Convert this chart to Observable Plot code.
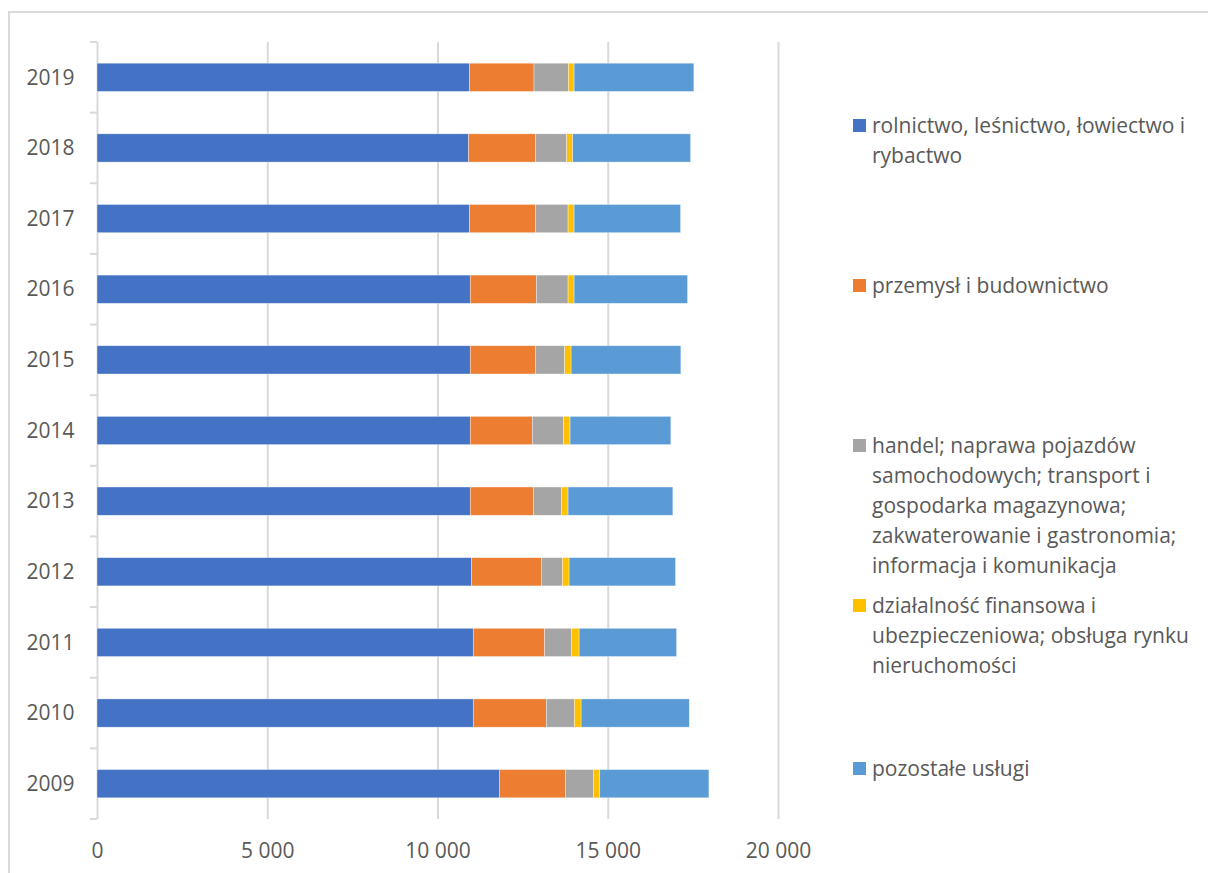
<!DOCTYPE html>
<html><head><meta charset="utf-8">
<script src="https://cdn.jsdelivr.net/npm/d3@7"></script>
<script src="https://cdn.jsdelivr.net/npm/@observablehq/plot@0.6"></script>
<style>
body{margin:0;background:#fff;font-family:"Open Sans",sans-serif;}
#wrap{position:relative;width:1208px;height:873px;overflow:hidden;background:#fff;}
#chart{position:absolute;left:0;top:0;}
#frame{position:absolute;left:8px;top:11px;width:1300px;height:1000px;border:2px solid #d9d9d9;box-sizing:border-box;pointer-events:none;}
#legend{position:absolute;left:853px;top:0;width:355px;height:873px;}
.item{position:absolute;left:0;display:flex;align-items:flex-start;}
.sw{width:13px;height:13px;margin-top:9px;margin-right:6px;flex:none;}
.lab{font-size:21px;line-height:30px;color:#595959;width:335px;}
</style>
</head><body>
<div id="wrap"><div id="chart"></div><div id="legend"></div><div id="frame"></div></div>
<script>
const years = ["2009","2010","2011","2012","2013","2014","2015","2016","2017","2018","2019"];
const sectors = [
  "rolnictwo, leśnictwo, łowiectwo i rybactwo",
  "przemysł i budownictwo",
  "handel; naprawa pojazdów samochodowych; transport i gospodarka magazynowa; zakwaterowanie i gastronomia; informacja i komunikacja",
  "działalność finansowa i ubezpieczeniowa; obsługa rynku nieruchomości",
  "pozostałe usługi"
];
const colors = ["#4472C4","#ED7D31","#A5A5A5","#FFC000","#5B9BD5"];
// values per year, 2009 .. 2019
const rolnictwo = [11815, 11050, 11050, 11000, 10962, 10962, 10962, 10962, 10941, 10912, 10941];
const przemysl  = [1950, 2147, 2097, 2050, 1862, 1823, 1920, 1941, 1941, 1970, 1894];
const handel    = [823, 824, 794, 618, 814, 921, 853, 932, 953, 912, 1009];
const finanse   = [177, 197, 218, 197, 197, 188, 189, 177, 177, 177, 168];
const pozostale = [3206, 3176, 2862, 3126, 3077, 2959, 3223, 3332, 3126, 3461, 3517];
const xTicks = [0, 5000, 10000, 15000, 20000];

const seriesValues = [rolnictwo, przemysl, handel, finanse, pozostale];
const data = years.flatMap((y, i) => sectors.map((s, j) => ({year: y, sector: s, value: seriesValues[j][i]})));

function boundaryTicks(index, scales, values, dims) {
  const y = scales.y;
  const step = y.step(), pad = (step - y.bandwidth()) / 2;
  const dom = y.domain();
  const bounds = dom.map(d => y(d) - pad).concat([y(dom[dom.length - 1]) + y.bandwidth() + pad]);
  const g = d3.create("svg:g").attr("stroke", "#d9d9d9").attr("stroke-width", 2);
  for (const b of bounds) g.append("line").attr("x1", dims.marginLeft - 7).attr("x2", dims.marginLeft).attr("y1", b).attr("y2", b);
  return g.node();
}

const fmt = d => d3.format(",")(d).replace(/,/g, " ");

const chart = Plot.plot({
  width: 830, height: 873,
  marginLeft: 97, marginRight: 52, marginTop: 42, marginBottom: 54,
  style: {fontFamily: "Open Sans", fontSize: "21px", color: "#595959", background: "transparent"},
  x: {domain: [0, 20000], label: null},
  y: {domain: years.slice().reverse(), paddingInner: 0.6, paddingOuter: 0.3, round: false, label: null},
  color: {domain: sectors, range: colors},
  marks: [
    Plot.gridX(xTicks, {stroke: "#d9d9d9", strokeOpacity: 1, strokeWidth: 2}),
    Plot.barX(data, Plot.stackX({x: "value", y: "year", fill: "sector", order: sectors, stroke: "#fff", strokeWidth: 0.6, strokeOpacity: 0.6})),
    Plot.axisX(xTicks, {tickSize: 0, tickPadding: 24, tickFormat: fmt, label: null, fill: "#595959", fontSize: 21}),
    Plot.axisY({tickSize: 0, tickPadding: 23, label: null, fill: "#595959", fontSize: 21}),
    boundaryTicks
  ]
});
document.getElementById("chart").appendChild(chart);

const legendTops = [110, 270, 430, 590, 753];
const legend = document.getElementById("legend");
sectors.forEach((s, i) => {
  const item = document.createElement("div");
  item.className = "item";
  item.style.top = legendTops[i] + "px";
  const sw = document.createElement("div");
  sw.className = "sw"; sw.style.background = colors[i];
  const lab = document.createElement("div");
  lab.className = "lab"; lab.textContent = s;
  item.appendChild(sw); item.appendChild(lab);
  legend.appendChild(item);
});
</script>
</body></html>
